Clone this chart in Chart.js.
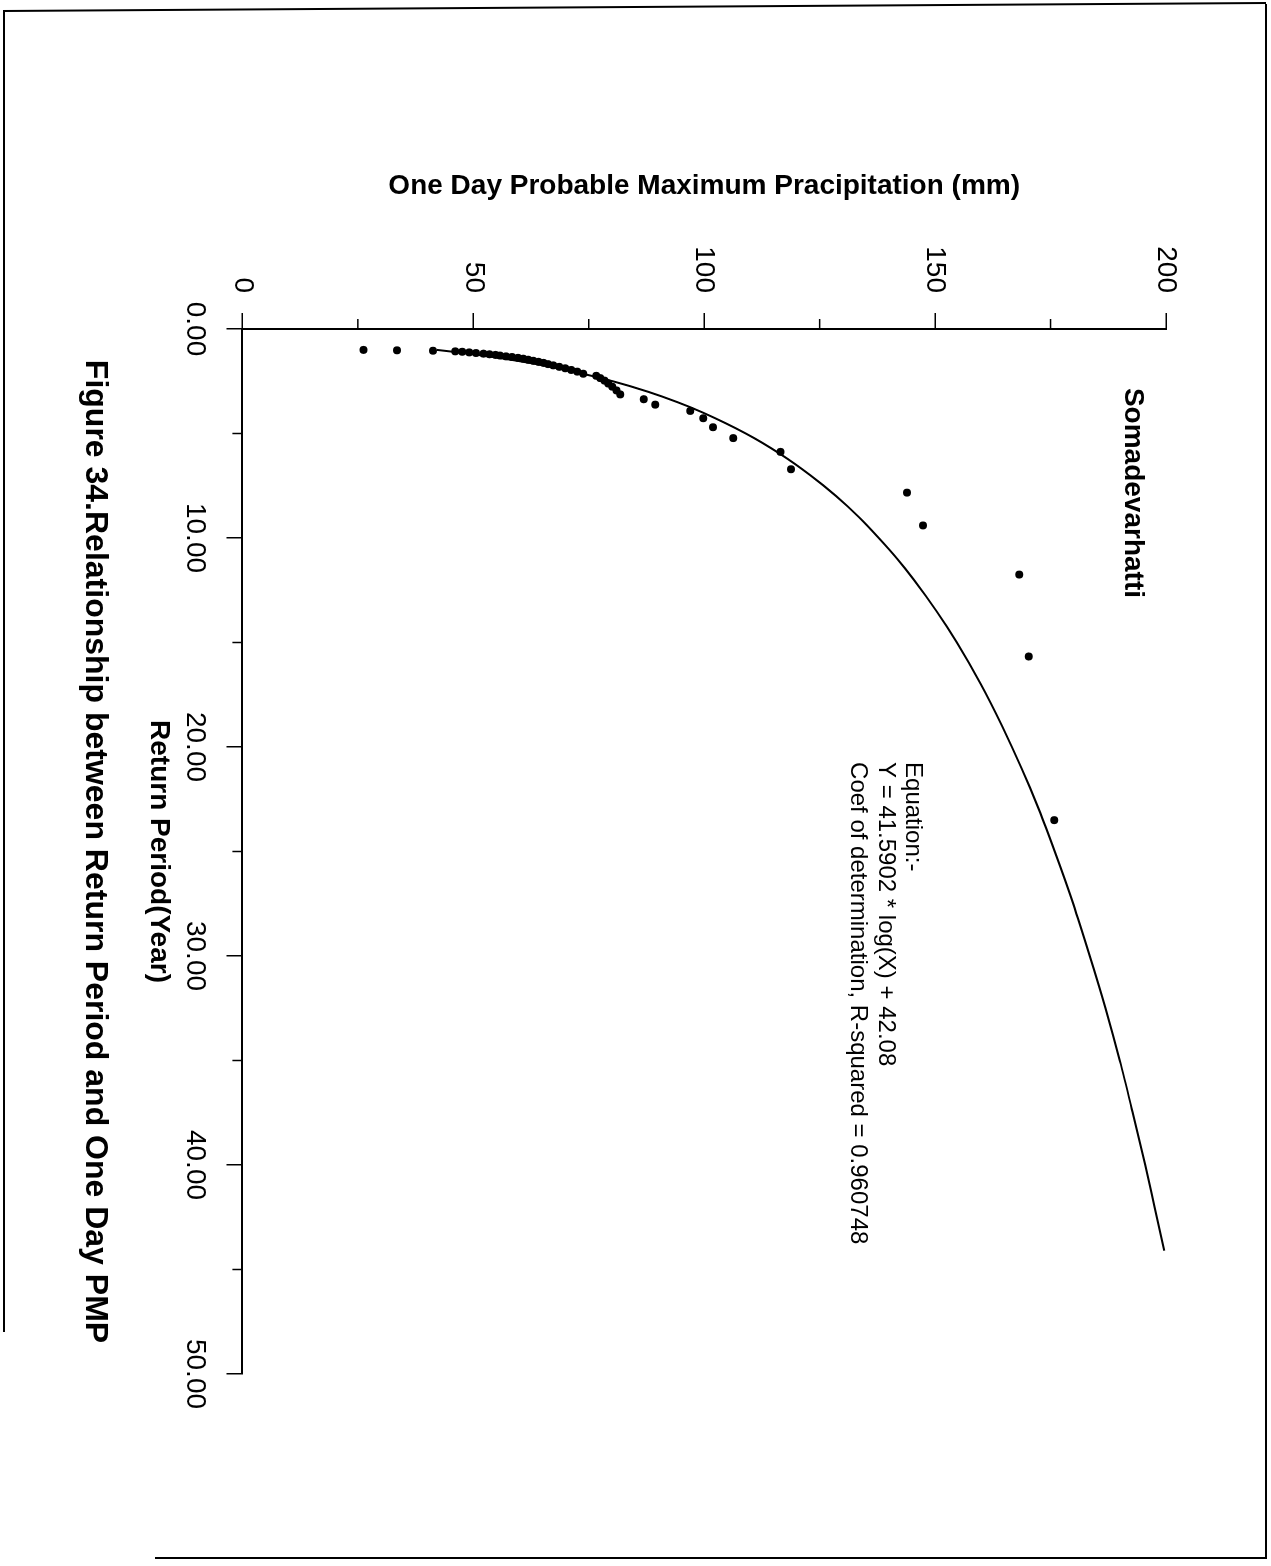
<!DOCTYPE html>
<html>
<head>
<meta charset="utf-8">
<title>Somadevarhatti - Return Period vs One Day PMP</title>
<script src="https://cdn.jsdelivr.net/npm/chart.js@4.4.1/dist/chart.umd.min.js"></script>
<style>
  html, body { margin: 0; padding: 0; background: #fff; }
  #page { position: relative; width: 1271px; height: 1566px; overflow: hidden; background: #fff; }
  /* the figure is laid out landscape and turned a quarter clockwise onto the portrait page */
  #sheet { position: absolute; left: 0; top: 0; width: 1566px; height: 1271px;
           transform-origin: 0 0; transform: translateX(1271px) rotate(90deg); }
  .edge { position: absolute; background: #000; }
</style>
</head>
<body>
<div id="page">
  <div id="sheet"><canvas id="pmp" width="1566" height="1271"></canvas></div>
  <!-- page frame -->
  <div class="edge" style="left:3px;top:10px;width:1263px;height:2px;transform:rotate(-0.36deg);transform-origin:0 0;"></div>
  <div class="edge" style="left:1265px;top:4px;width:2px;height:1555px;"></div>
  <div class="edge" style="left:155px;top:1557px;width:1112px;height:2px;"></div>
  <div class="edge" style="left:3px;top:12px;width:2px;height:1320px;"></div>
</div>

<script>
// Observed one-day maxima, ranked: return period (years) and PMP (mm)
const returnPeriod = [23.5, 15.67, 11.75, 9.4, 7.83, 6.71, 5.88, 5.22, 4.7, 4.27,
                      3.92, 3.62, 3.36, 3.13, 2.94, 2.76, 2.61, 2.47, 2.35, 2.24,
                      2.14, 2.04, 1.96, 1.88, 1.81, 1.74, 1.68, 1.62, 1.57, 1.52,
                      1.47, 1.42, 1.38, 1.34, 1.31, 1.27, 1.24, 1.21, 1.18, 1.15,
                      1.12, 1.09, 1.07, 1.04, 1.02, 1.0];
const pmpObserved = [175.8, 170.3, 168.2, 147.4, 143.9, 118.8, 116.5, 106.3, 101.9, 99.8,
                     97.0, 89.4, 86.9, 81.8, 81.0, 80.1, 79.2, 78.4, 77.5, 76.6,
                     73.8, 72.5, 71.2, 69.9, 68.6, 67.3, 66.2, 65.2, 64.1, 63.0,
                     61.9, 60.8, 59.7, 58.4, 57.1, 55.8, 54.8, 53.5, 52.2, 50.6,
                     49.1, 47.6, 46.1, 41.3, 33.5, 26.2];

// Fitted logarithmic trend line
const fitPeriod = [1.0, 1.1, 1.2, 1.35, 1.5, 1.75, 2, 2.5, 3, 3.5, 4, 5, 6, 7, 8, 9, 10, 11, 12,
                   13.5, 15, 17, 19, 21, 23, 25, 27.5, 30, 32.5, 35, 37.5, 40, 42, 44.1];
const fitPmp    = [42.1, 46.0, 49.7, 54.6, 58.9, 65.4, 70.9, 80.2, 87.8, 94.2, 99.7, 109.0, 116.6,
                   123.0, 128.6, 133.5, 137.8, 141.8, 145.4, 150.3, 154.7, 159.9, 164.5, 168.7,
                   172.5, 175.9, 179.9, 183.5, 186.9, 190.0, 192.8, 195.5, 197.5, 199.6];

// Axis ticks
const periodTicks = [0, 10, 20, 30, 40, 50];
const periodMinor = [5, 15, 25, 35, 45];
const pmpTicks = [0, 50, 100, 150, 200];
const pmpMinor = [25, 75, 125, 175];

// Text
const stationName = 'Somadevarhatti';
const equationLines = ['Equation:-', 'Y = 41.5902 * log(X) + 42.08', 'Coef of determination, R-squared = 0.960748'];
const figureTitle = 'Figure 34.Relationship between Return Period and One Day PMP';
const periodTitle = 'Return Period(Year)';
const pmpTitle = 'One Day Probable Maximum Pracipitation (mm)';

const FONT = '"Liberation Sans", Arial, Helvetica, sans-serif';

const observed = returnPeriod.map((p, i) => ({ x: p, y: pmpObserved[i] }));
const fitted = fitPeriod.map((p, i) => ({ x: p, y: fitPmp[i] }));

// short intermediate tick marks on both axes
const minorTicks = {
  id: 'minorTicks',
  afterDraw(chart) {
    const { ctx, chartArea, scales } = chart;
    ctx.save();
    ctx.strokeStyle = '#000';
    ctx.lineWidth = 1.5;
    periodMinor.forEach(v => {
      const px = scales.x.getPixelForValue(v);
      ctx.beginPath(); ctx.moveTo(px, chartArea.bottom); ctx.lineTo(px, chartArea.bottom + 10); ctx.stroke();
    });
    pmpMinor.forEach(v => {
      const py = scales.y.getPixelForValue(v);
      ctx.beginPath(); ctx.moveTo(chartArea.left, py); ctx.lineTo(chartArea.left - 10, py); ctx.stroke();
    });
    ctx.restore();
  }
};

// station name and regression note inside the plot
const plotNotes = {
  id: 'plotNotes',
  afterDraw(chart) {
    const { ctx, scales } = chart;
    ctx.save();
    ctx.fillStyle = '#000';
    ctx.textAlign = 'left';
    ctx.textBaseline = 'middle';
    ctx.font = 'bold 28px ' + FONT;
    ctx.fillText(stationName, scales.x.getPixelForValue(2.82), scales.y.getPixelForValue(192.8));
    ctx.font = '24px ' + FONT;
    const x0 = scales.x.getPixelForValue(20.72);
    const y0 = scales.y.getPixelForValue(145.2);
    equationLines.forEach((t, i) => ctx.fillText(t, x0, y0 + i * 27.5));
    ctx.restore();
  }
};

new Chart(document.getElementById('pmp'), {
  type: 'scatter',
  data: {
    datasets: [
      {
        label: 'Observed',
        data: observed,
        backgroundColor: '#000',
        borderColor: '#000',
        borderWidth: 0,
        pointRadius: 4,
        pointStyle: 'circle'
      },
      {
        label: 'Fitted',
        data: fitted,
        showLine: true,
        borderColor: '#000',
        borderWidth: 2,
        pointRadius: 0,
        cubicInterpolationMode: 'monotone',
        fill: false
      }
    ]
  },
  options: {
    responsive: false,
    animation: false,
    devicePixelRatio: 1,
    layout: { padding: { left: 169, right: 192, top: 105, bottom: 76 } },
    plugins: {
      legend: { display: false },
      tooltip: { enabled: false },
      title: {
        display: true,
        text: figureTitle,
        position: 'bottom',
        fullSize: false,
        color: '#000',
        font: { family: FONT, size: 32, weight: 'bold' },
        padding: { top: 28, bottom: 0 }
      }
    },
    scales: {
      x: {
        type: 'linear',
        min: 0, max: 50,
        afterFit(scale) { scale.height = 100; },
        afterBuildTicks(scale) { scale.ticks = periodTicks.map(v => ({ value: v })); },
        border: { display: true, color: '#000', width: 2 },
        grid: { drawOnChartArea: false, drawTicks: true, tickLength: 16, color: '#000', lineWidth: 1.5 },
        ticks: {
          color: '#000',
          font: { family: FONT, size: 28 },
          padding: 15,
          maxRotation: 0, minRotation: 0, autoSkip: false,
          callback: v => Number(v).toFixed(2)
        },
        title: {
          display: true,
          text: periodTitle,
          color: '#000',
          font: { family: FONT, size: 28, weight: 'bold' },
          padding: 0
        }
      },
      y: {
        type: 'linear',
        min: 0, max: 200,
        afterFit(scale) { scale.width = 160; },
        afterBuildTicks(scale) { scale.ticks = pmpTicks.map(v => ({ value: v })); },
        border: { display: true, color: '#000', width: 2 },
        grid: { drawOnChartArea: false, drawTicks: true, tickLength: 16, color: '#000', lineWidth: 1.5 },
        ticks: {
          color: '#000',
          font: { family: FONT, size: 28 },
          padding: 20,
          autoSkip: false,
          callback: v => String(v)
        },
        title: {
          display: true,
          text: pmpTitle,
          color: '#000',
          font: { family: FONT, size: 28, weight: 'bold' },
          padding: 0
        }
      }
    }
  },
  plugins: [minorTicks, plotNotes]
});
</script>
</body>
</html>
